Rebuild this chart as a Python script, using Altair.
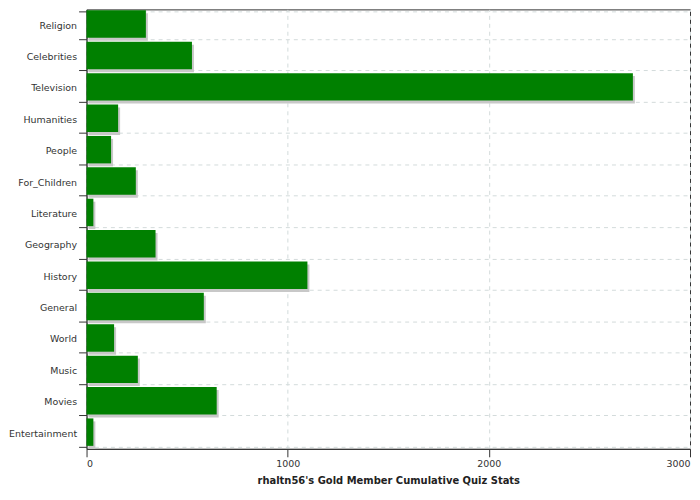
import altair as alt
import pandas as pd

categories = ["Religion", "Celebrities", "Television", "Humanities", "People",
              "For_Children", "Literature", "Geography", "History", "General",
              "World", "Music", "Movies", "Entertainment"]
values = [295, 524, 2716, 157, 122, 245, 34, 343, 1098, 583, 137, 255, 647, 34]
x_ticks = [0, 1000, 2000, 3000]
title = "rhaltn56's Gold Member Cumulative Quiz Stats"

df = pd.DataFrame({"category": categories, "value": values})

y_enc = alt.Y("category:N", sort=categories,
              scale=alt.Scale(paddingInner=0.125, paddingOuter=0.0625),
              axis=alt.Axis(title=None, tickBand="extent", grid=True,
                            gridDash=[4, 4], gridColor="#d3dbdb",
                            tickSize=8, tickColor="#333333", domainColor="#333333",
                            labelPadding=2, labelFontSize=9.5, labelColor="#333333",
                            labelFont="DejaVu Sans"))
x_enc = alt.X("value:Q", scale=alt.Scale(domain=[0, 3000], nice=False),
              axis=alt.Axis(title=title, values=x_ticks, format="d",
                            grid=True, gridDash=[4, 4], gridColor="#d3dbdb",
                            tickSize=8, tickColor="#333333", domainColor="#333333",
                            labelFontSize=9.5, labelColor="#333333", labelFont="DejaVu Sans",
                            labelPadding=2, labelFlush=True,
                            titleFont="DejaVu Sans", titleFontSize=10, titleFontWeight="bold",
                            titleColor="#222222", titlePadding=7))

base = alt.Chart(df)
shadow = base.mark_bar(color="#c8c8c8", xOffset=2, yOffset=2).encode(x=x_enc, y=y_enc)
bars = base.mark_bar(color="#008000", yOffset=-1).encode(x=x_enc, y=y_enc)

chart = alt.layer(shadow, bars).properties(
    width=607, height=442,
    padding={"top": -5, "left": 0, "right": 1, "bottom": 0}
).configure_view(stroke="#333333", strokeWidth=1)

chart.save("out.html", embed_options={"renderer": "svg", "actions": False})
